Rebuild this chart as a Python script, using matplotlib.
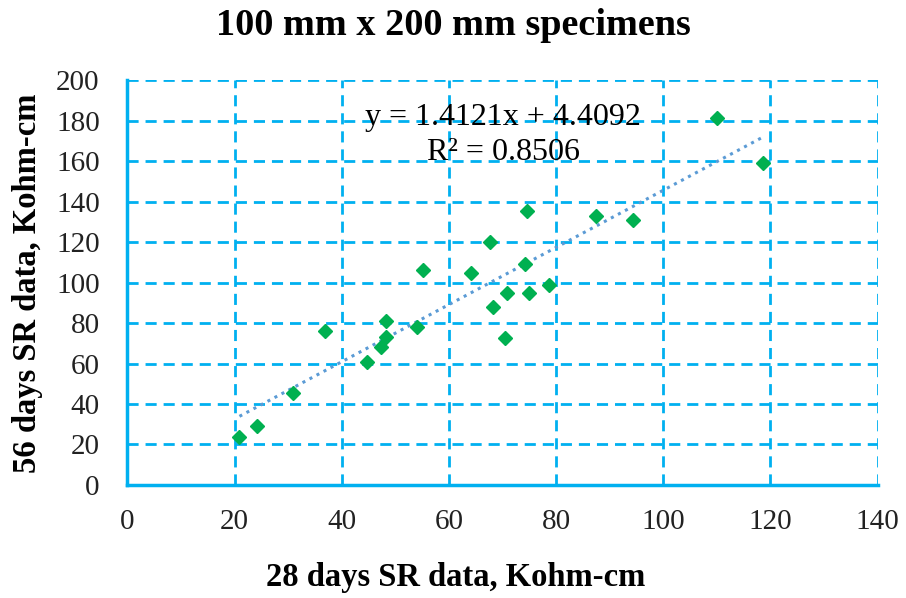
import numpy as np
import matplotlib.pyplot as plt

# 28日 / 56日 の表面抵抗率データ (Kohm-cm)
sr_28d = [20.9, 24.2, 30.8, 36.9, 44.7, 47.4, 48.2, 48.2, 54.0, 55.2, 64.1, 67.6,
          68.3, 70.4, 70.8, 74.2, 74.5, 75.0, 78.6, 87.4, 94.3, 110.1, 118.6]
sr_56d = [23.5, 29.1, 45.6, 76.0, 60.7, 68.3, 73.2, 81.1, 78.2, 106.2, 104.8, 120.2,
          88.1, 72.8, 95.0, 109.1, 135.5, 95.0, 99.0, 133.0, 130.9, 181.1, 158.9]

slope, intercept = 1.4121, 4.4092
r2 = 0.8506

x_ticks = list(range(0, 141, 20))
y_ticks = list(range(0, 201, 20))

GRID = '#00B0F0'
plt.rcParams['font.family'] = ['Liberation Serif', 'DejaVu Serif']

fig = plt.figure(figsize=(9.06, 5.98), dpi=100)
ax = fig.add_axes([0.1407, 0.189, 0.828, 0.677])

# トレンドライン
xs = np.array([min(sr_28d), max(sr_28d)])
ax.plot(xs, slope * xs + intercept, linestyle=(0, (1, 1.6)), color='#5B9BD5',
        linewidth=2.2, zorder=3)

ax.plot(sr_28d, sr_56d, linestyle='none', marker='D', markersize=7.5,
        color='#00B050', zorder=4)

ax.set_xlim(0, 140)
ax.set_ylim(0, 200)
ax.set_xticks(x_ticks)
ax.set_yticks(y_ticks)
ax.grid(True, color=GRID, linestyle=(0, (4, 2.5)), linewidth=2)
ax.set_axisbelow(True)
ax.tick_params(length=0, labelsize=21, colors='#222222')
ax.tick_params(axis='x', pad=17)
ax.tick_params(axis='y', pad=20)

for side in ['top', 'right']:
    ax.spines[side].set_visible(False)
for side in ['left', 'bottom']:
    ax.spines[side].set_color(GRID)
    ax.spines[side].set_linewidth(2.5)

ax.text(70.1, 181.7, f"y = {slope}x + {intercept}", ha='center', va='center', fontsize=23)
ax.text(70.1, 164.4, f"R² = {r2}", ha='center', va='center', fontsize=23)

fig.text(0.5, 0.958, "100 mm x 200 mm specimens", ha='center', va='center',
         fontsize=27.5, fontweight='bold')
fig.text(0.503, 0.035, "28 days SR data, Kohm-cm", ha='center', va='center',
         fontsize=23.5, fontweight='bold')
fig.text(0.03, 0.527, "56 days SR data, Kohm-cm", ha='center', va='center',
         rotation=90, fontsize=23.5, fontweight='bold')

fig.savefig('out.png', dpi=100)
